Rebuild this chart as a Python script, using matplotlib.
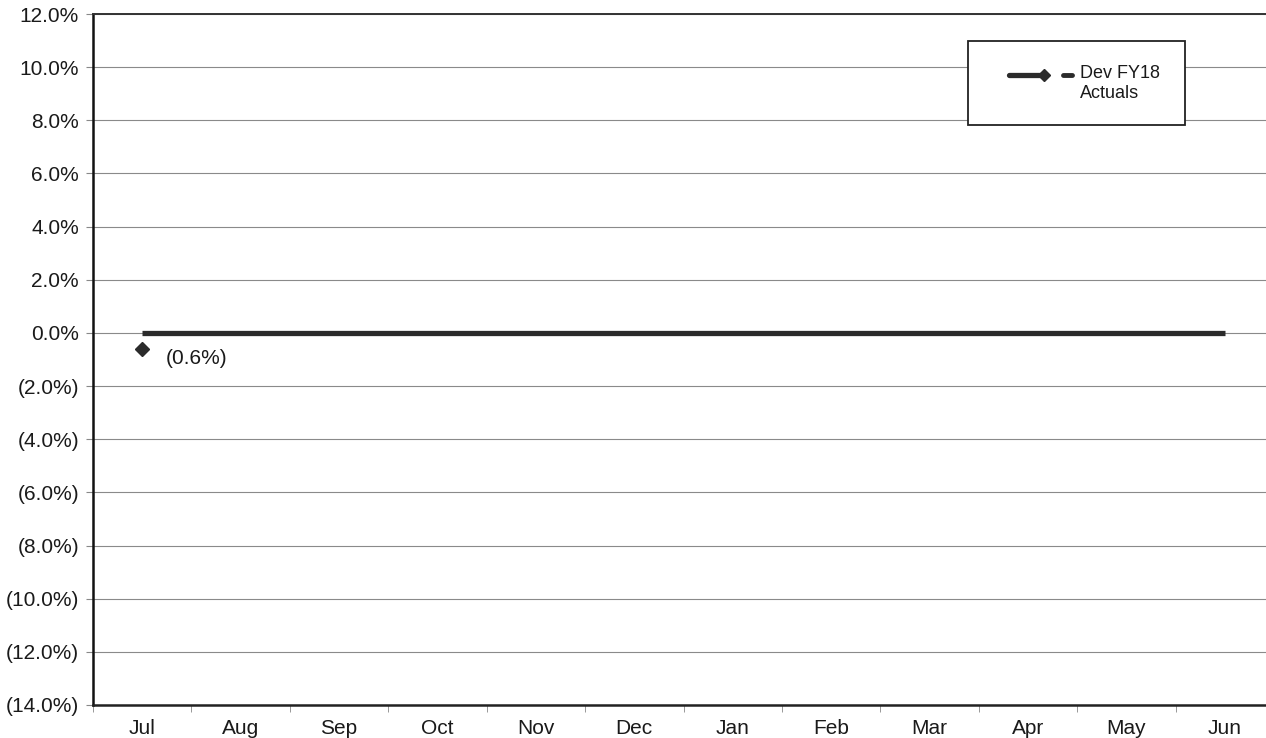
import matplotlib
matplotlib.use("Agg")
import matplotlib.pyplot as plt
from matplotlib.ticker import FuncFormatter, FixedLocator
from matplotlib.patches import Rectangle
from matplotlib.lines import Line2D

plt.rcParams['font.family'] = ['Liberation Sans', 'DejaVu Sans']

months = ["Jul", "Aug", "Sep", "Oct", "Nov", "Dec", "Jan", "Feb", "Mar", "Apr", "May", "Jun"]
target = [0.0] * 12                 # baseline (0%) for every month
actual_months = ["Jul"]
actual_values = [-0.6]              # Dev FY18 actuals, percent
series_label = "Dev FY18\nActuals"

fig = plt.figure(figsize=(12.66, 7.38), dpi=100)
ax = fig.add_axes([93 / 1266, 1 - 705 / 738, 1181 / 1266, 691 / 738])

x = list(range(len(months)))
ax.plot(x, target, color="#2b2b2b", lw=3.8, solid_capstyle="butt", zorder=3)

ax_idx = [months.index(m) for m in actual_months]
ax.plot(ax_idx, actual_values, linestyle="none", marker="D", markersize=7,
        color="#2b2b2b", zorder=4)
for xi, v in zip(ax_idx, actual_values):
    txt = f"({abs(v):.1f}%)" if v < 0 else f"{v:.1f}%"
    ax.annotate(txt, (xi, v), xytext=(17, -7), textcoords="offset points",
                ha="left", va="center", fontsize=15, color="#1a1a1a")

ax.set_xlim(-0.5, len(months) - 0.5)
ax.set_ylim(-14, 12)
ax.set_yticks(range(-14, 13, 2))
ax.yaxis.set_major_formatter(FuncFormatter(
    lambda v, p: f"({abs(v):.1f}%)" if v < 0 else f"{v:.1f}%"))
ax.grid(axis="y", color="#8a8a8a", lw=0.8)
ax.set_axisbelow(True)

# category labels centered, tick marks on boundaries
ax.set_xticks(x)
ax.set_xticklabels(months)
ax.xaxis.set_minor_locator(FixedLocator([i - 0.5 for i in range(len(months) + 1)]))
ax.tick_params(axis="x", which="major", length=0, pad=10, labelsize=15)
ax.tick_params(axis="x", which="minor", length=5, color="#888888")
ax.tick_params(axis="y", length=5, color="#888888", labelsize=15, pad=5)
for lab in ax.get_xticklabels() + ax.get_yticklabels():
    lab.set_color("#1a1a1a")

ax.spines["left"].set_linewidth(1.8)
ax.spines["left"].set_color("#111111")
ax.spines["bottom"].set_linewidth(1.8)
ax.spines["bottom"].set_color("#222222")
ax.spines["top"].set_linewidth(1.4)
ax.spines["top"].set_color("#333333")
ax.spines["right"].set_visible(False)

# legend box
tr = ax.transAxes
ax.add_patch(Rectangle((0.741, 0.839), 0.184, 0.122, transform=tr, fill=True,
                       facecolor="white", edgecolor="#222222", lw=1.3, zorder=5))
ax.add_line(Line2D([0.776, 0.805], [0.912, 0.912], transform=tr, color="#2b2b2b",
                   lw=3.8, solid_capstyle="round", zorder=6))
ax.add_line(Line2D([0.805], [0.912], transform=tr, color="#2b2b2b", marker="D",
                   markersize=6, zorder=6))
ax.add_line(Line2D([0.821, 0.829], [0.912, 0.912], transform=tr, color="#2b2b2b",
                   lw=3.5, solid_capstyle="round", zorder=6))
ax.text(0.836, 0.926, series_label, transform=tr, ha="left", va="top",
        fontsize=13, color="#1a1a1a", linespacing=1.2, zorder=6)

fig.savefig("out.png", dpi=100, facecolor="white")
